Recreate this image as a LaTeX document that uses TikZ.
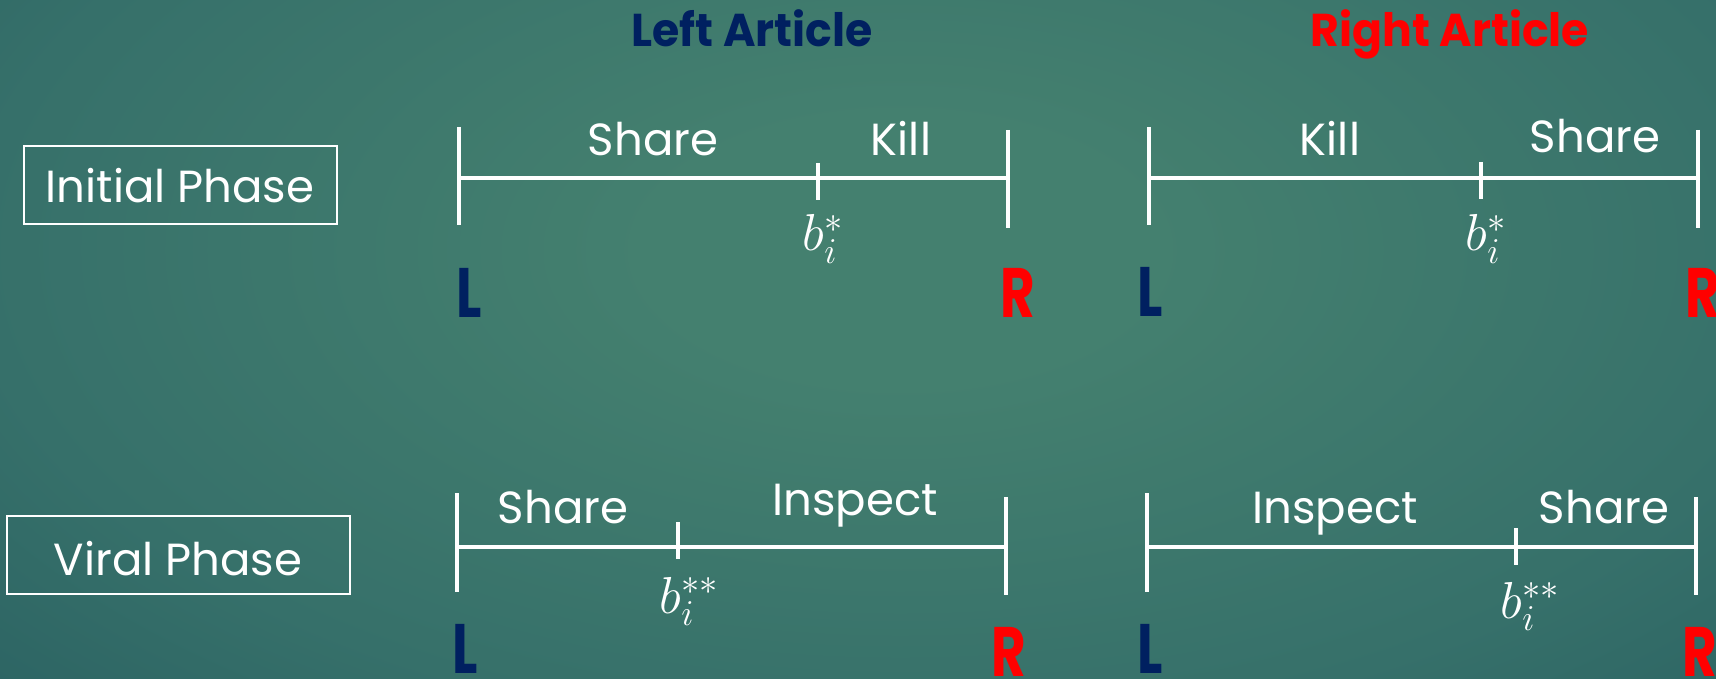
\RequirePackage{fix-cm}
\documentclass[tikz,border=0pt]{standalone}
\usepackage{fontspec}
\setmainfont{Poppins}
\usepackage{graphicx}
\definecolor{navy}{HTML}{002060}
\definecolor{pred}{HTML}{FF0000}
\definecolor{bgin}{HTML}{44806F}
\definecolor{bgmid}{HTML}{36706A}
\definecolor{bgout}{HTML}{22575C}
\definecolor{bgedge}{HTML}{1D4E56}
\pgfdeclareradialshading{bgshade}{\pgfpoint{0bp}{0bp}}{color(0bp)=(bgin); color(6bp)=(bgin); color(22bp)=(bgmid); color(38bp)=(bgout); color(52bp)=(bgedge); color(100bp)=(bgedge)}
\tikzset{
  lbl/.style={anchor=base, inner sep=0pt, text=white, font=\fontsize{45}{48}\selectfont},
  phase/.style={anchor=base, inner sep=0pt, text=white, font=\fontsize{45}{48}\selectfont},
  mathlbl/.style={anchor=base, inner sep=0pt, text=white, font=\fontsize{52}{56}\selectfont},
  endL/.style={anchor=base, inner sep=0pt, text=navy, font=\fontsize{70}{72}\selectfont\bfseries},
  endR/.style={anchor=base, inner sep=0pt, text=pred, font=\fontsize{70}{72}\selectfont\bfseries},
  title/.style={anchor=base, inner sep=0pt, font=\fontsize{46}{50}\selectfont\bfseries},
  axis/.style={draw=white, line width=4pt},
  tickln/.style={draw=white, line width=3.2pt},
  boxln/.style={draw=white, line width=2.4pt},
}
\newcommand{\narrow}[1]{\scalebox{0.76}[1]{#1}}
\newcommand{\titlefit}[1]{\scalebox{0.96}[1]{#1}}
\begin{document}
\begin{tikzpicture}[x=1pt, y=-1pt]
\useasboundingbox (0,0) rectangle (1716,679);
\shade[shading=bgshade] (-150,-300) rectangle (1950,800);
\clip (0,0) rectangle (1716,679);

% titles
\node[title, text=navy] (tL) at (752,47) {\titlefit{Left Article}};
\node[title, text=pred] (tR) at (1450,47) {\titlefit{Right Article}};

% phase boxes
\coordinate (ib1) at (24,146); \coordinate (ib2) at (337,224);
\draw[boxln] (ib1) rectangle (ib2);
\node[phase] (ip) at (180,203) {Initial Phase};
\coordinate (vb1) at (7,516); \coordinate (vb2) at (350,594);
\draw[boxln] (vb1) rectangle (vb2);
\node[phase] (vp) at (178,575) {Viral Phase};

% ---------- top left ----------
\coordinate (a1t) at (459,127); \coordinate (a1b) at (459,225);
\coordinate (a1l) at (459,178); \coordinate (a1r) at (1008,178);
\coordinate (a1mt) at (818,163); \coordinate (a1mb) at (818,200);
\coordinate (a1rt) at (1008,130); \coordinate (a1rb) at (1008,228);
\draw[axis] (a1l) -- (a1r);
\draw[tickln] (a1t) -- (a1b);
\draw[tickln] (a1mt) -- (a1mb);
\draw[tickln] (a1rt) -- (a1rb);
\node[lbl] (a1s) at (653,156) {Share};
\node[lbl] (a1k) at (901,156) {Kill};
\node[mathlbl] (a1m) at (823,251) {$b_i^*$};
\node[endL] (a1L) at (469,317) {\narrow{L}};
\node[endR] (a1R) at (1018,317) {\narrow{R}};

% ---------- top right ----------
\coordinate (a2t) at (1149,127); \coordinate (a2b) at (1149,225);
\coordinate (a2l) at (1149,178); \coordinate (a2r) at (1698,178);
\coordinate (a2mt) at (1481,162); \coordinate (a2mb) at (1481,199);
\coordinate (a2rt) at (1698,130); \coordinate (a2rb) at (1698,228);
\draw[axis] (a2l) -- (a2r);
\draw[tickln] (a2t) -- (a2b);
\draw[tickln] (a2mt) -- (a2mb);
\draw[tickln] (a2rt) -- (a2rb);
\node[lbl] (a2k) at (1330,156) {Kill};
\node[lbl] (a2s) at (1595,153) {Share};
\node[mathlbl] (a2m) at (1486,251) {$b_i^*$};
\node[endL] (a2L) at (1150,316) {\narrow{L}};
\node[endR] (a2R) at (1703,317) {\narrow{R}};

% ---------- bottom left ----------
\coordinate (a3t) at (457,493); \coordinate (a3b) at (457,592);
\coordinate (a3l) at (457,547); \coordinate (a3r) at (1006,547);
\coordinate (a3mt) at (678,522); \coordinate (a3mb) at (678,559);
\coordinate (a3rt) at (1006,497); \coordinate (a3rb) at (1006,595);
\draw[axis] (a3l) -- (a3r);
\draw[tickln] (a3t) -- (a3b);
\draw[tickln] (a3mt) -- (a3mb);
\draw[tickln] (a3rt) -- (a3rb);
\node[lbl] (a3s) at (563,523) {Share};
\node[lbl] (a3i) at (855,515) {Inspect};
\node[mathlbl] (a3m) at (689,613) {$b_i^{**}$};
\node[endL] (a3L) at (465,673) {\narrow{L}};
\node[endR] (a3R) at (1009,676) {\narrow{R}};

% ---------- bottom right ----------
\coordinate (a4t) at (1147,493); \coordinate (a4b) at (1147,592);
\coordinate (a4l) at (1147,547); \coordinate (a4r) at (1696,547);
\coordinate (a4mt) at (1516,528); \coordinate (a4mb) at (1516,565);
\coordinate (a4rt) at (1696,497); \coordinate (a4rb) at (1696,595);
\draw[axis] (a4l) -- (a4r);
\draw[tickln] (a4t) -- (a4b);
\draw[tickln] (a4mt) -- (a4mb);
\draw[tickln] (a4rt) -- (a4rb);
\node[lbl] (a4i) at (1335,523) {Inspect};
\node[lbl] (a4s) at (1604,523) {Share};
\node[mathlbl] (a4m) at (1530,618) {$b_i^{**}$};
\node[endL] (a4L) at (1150,673) {\narrow{L}};
\node[endR] (a4R) at (1700,676) {\narrow{R}};
\end{tikzpicture}
\end{document}
